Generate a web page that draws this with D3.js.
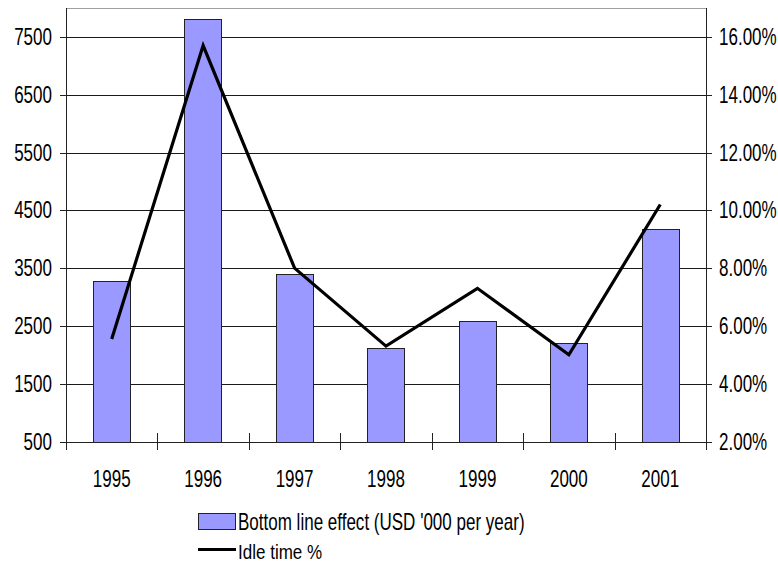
<!DOCTYPE html>
<html>
<head>
<meta charset="utf-8">
<script src="https://cdn.jsdelivr.net/npm/d3@7/dist/d3.min.js"></script>
<style>
  html, body { margin: 0; padding: 0; background: #fff; }
  svg { display: block; }
  text { font-family: "Liberation Sans", Arial, sans-serif; fill: #000; }
</style>
</head>
<body>
<svg id="chart" width="778" height="564"></svg>
<script>
// Data
const years = ["1995", "1996", "1997", "1998", "1999", "2000", "2001"];
const bottomLine = [3270, 7810, 3400, 2120, 2580, 2200, 4180];      // USD '000 per year
const idleTime = [5.55, 15.7, 8.0, 5.3, 7.3, 5.0, 10.2];            // percent
const leftTicks = [500, 1500, 2500, 3500, 4500, 5500, 6500, 7500];
const rightTicks = [2, 4, 6, 8, 10, 12, 14, 16];
const seriesNames = ["Bottom line effect (USD '000 per year)", "Idle time %"];

const svg = d3.select("#chart");
const plot = { left: 66, right: 706, top: 8, bottom: 441.5 };

const x = d3.scaleBand().domain(years).range([plot.left, plot.right]);
const yL = d3.scaleLinear().domain([500, 8000]).range([plot.bottom, plot.top]);
const yR = d3.scaleLinear().domain([2, 17]).range([plot.bottom, plot.top]);

const FS = 23, SX = 0.74;   // tall, condensed lettering
function label(g, tx, ty, str, anchor, fs = FS) {
  return g.append("text")
    .attr("transform", `translate(${tx},${ty}) scale(${SX * FS / fs},1)`)
    .attr("text-anchor", anchor)
    .attr("font-size", fs)
    .text(str);
}

const px = v => Math.round(v) + 0.5;

// Top border of plot area
svg.append("line")
  .attr("x1", plot.left).attr("x2", plot.right)
  .attr("y1", px(plot.top)).attr("y2", px(plot.top))
  .attr("stroke", "#a0a0a0").attr("stroke-width", 1);

// Gridlines (left axis)
svg.append("g").selectAll("line").data(leftTicks.slice(1)).join("line")
  .attr("x1", plot.left).attr("x2", plot.right)
  .attr("y1", d => px(yL(d))).attr("y2", d => px(yL(d)))
  .attr("stroke", "#1a1a1a").attr("stroke-width", 1);

// Bars
const bw = x.bandwidth() * 0.41;
svg.append("g").selectAll("rect").data(bottomLine).join("rect")
  .attr("x", (d, i) => Math.round(x(years[i]) + (x.bandwidth() - bw) / 2) + 0.5)
  .attr("y", d => Math.round(yL(d)) + 0.5)
  .attr("width", Math.round(bw))
  .attr("height", d => Math.round(yL(500)) - Math.round(yL(d)))
  .attr("fill", "#9999ff")
  .attr("stroke", "#222").attr("stroke-width", 1);

// Axis lines
const axes = svg.append("g").attr("stroke", "#222").attr("stroke-width", 1);
axes.append("line").attr("x1", px(plot.left)).attr("x2", px(plot.left))
  .attr("y1", plot.top).attr("y2", 450);
axes.append("line").attr("x1", px(plot.right)).attr("x2", px(plot.right))
  .attr("y1", plot.top).attr("y2", 450);
axes.append("line").attr("x1", plot.left).attr("x2", plot.right)
  .attr("y1", px(plot.bottom)).attr("y2", px(plot.bottom));

// Left ticks
axes.selectAll(".lt").data(leftTicks).join("line").attr("class", "lt")
  .attr("x1", plot.left - 6).attr("x2", plot.left)
  .attr("y1", d => px(yL(d))).attr("y2", d => px(yL(d)));
// Right ticks
axes.selectAll(".rt").data(rightTicks).join("line").attr("class", "rt")
  .attr("x1", plot.right).attr("x2", plot.right + 6)
  .attr("y1", d => px(yR(d))).attr("y2", d => px(yR(d)));
// Category boundary ticks
axes.selectAll(".xt").data(years.slice(1)).join("line").attr("class", "xt")
  .attr("x1", d => px(x(d))).attr("x2", d => px(x(d)))
  .attr("y1", 433).attr("y2", 450);

// Idle time line
const line = d3.line()
  .x((d, i) => x(years[i]) + x.bandwidth() / 2)
  .y(d => yR(d));
svg.append("path").datum(idleTime)
  .attr("d", line)
  .attr("fill", "none").attr("stroke", "#000")
  .attr("stroke-width", 3.2).attr("stroke-linejoin", "miter");

// Tick labels
const labels = svg.append("g");
leftTicks.forEach(t => label(labels, 52, yL(t) + 8, String(t), "end"));
rightTicks.forEach(t => label(labels, 719, yR(t) + 8, t.toFixed(2) + "%", "start"));
years.forEach(yv => label(labels, x(yv) + x.bandwidth() / 2, 487, yv, "middle"));

// Legend
const lg = svg.append("g");
lg.append("rect").attr("x", 198.5).attr("y", 513.5).attr("width", 37).attr("height", 16)
  .attr("fill", "#9999ff").attr("stroke", "#222").attr("stroke-width", 1);
label(lg, 238, 530, seriesNames[0], "start");
lg.append("line").attr("x1", 198).attr("x2", 236).attr("y1", 549.5).attr("y2", 549.5)
  .attr("stroke", "#000").attr("stroke-width", 3.2);
label(lg, 238, 559, seriesNames[1], "start", 21);
</script>
</body>
</html>
